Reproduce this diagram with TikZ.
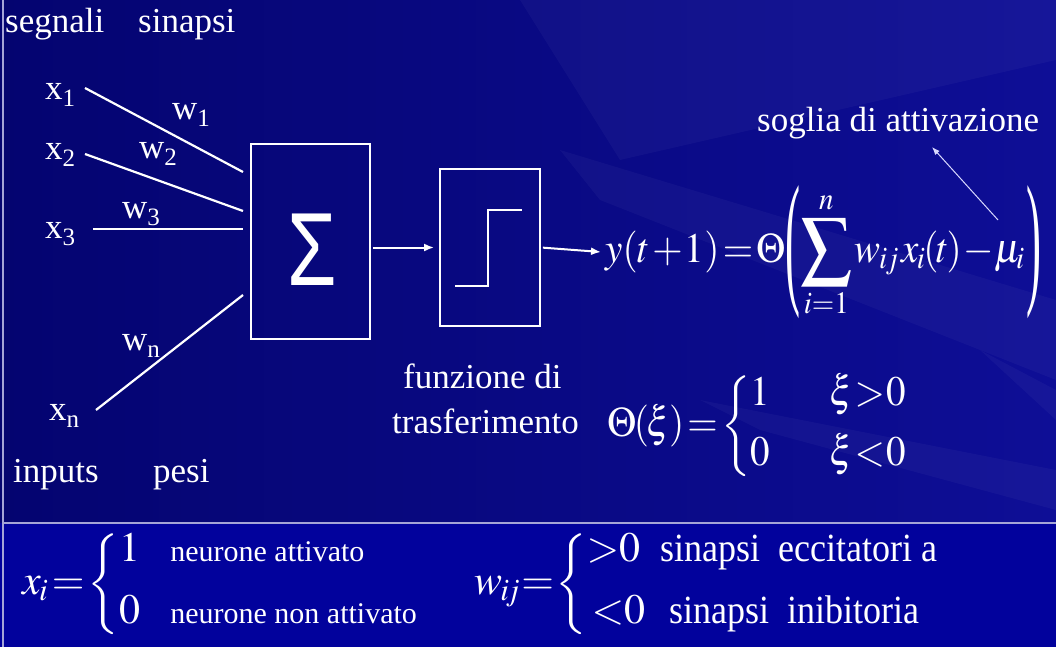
\documentclass[tikz,border=0pt]{standalone}
\usepackage{mathptmx}
\usepackage{fontspec}
\setmainfont{Liberation Serif}
\setsansfont{Liberation Sans}
\usetikzlibrary{arrows.meta,calc}
\definecolor{bgdark}{RGB}{4,4,112}
\definecolor{bgmid}{RGB}{14,14,150}
\definecolor{bgbot}{RGB}{2,2,156}
\definecolor{rulec}{RGB}{165,165,215}
\newcommand\lowsub[1]{\raisebox{-7pt}{\fontsize{25}{25}\selectfont #1}}
\newcommand\tightmath{\medmuskip=1mu\thickmuskip=1.5mu\thinmuskip=1mu}
\newcommand\bigsum{\mathop{\vcenter{\hbox{\scalebox{1.3}{$\displaystyle\sum$}}}}\limits}
\newcommand\bigparL{\mathopen{\vcenter{\hbox{\scalebox{1.15}[3.5]{(}}}}}
\newcommand\bigparR{\mathclose{\vcenter{\hbox{\scalebox{1.15}[3.5]{)}}}}}
\begin{document}
\begin{tikzpicture}[x=1pt,y=-1pt,
  lbl/.style={text=white, font=\fontsize{35}{35}\selectfont, inner sep=0pt, anchor=base west},
  mth/.style={text=white, font=\fontsize{42}{42}\selectfont, inner sep=0pt},
  inl/.style={white, line width=2.2pt},
  boxn/.style={draw=white, line width=1.8pt, inner sep=0pt},
  arr/.style={white, line width=2pt, -{Latex[length=10pt,width=8pt]}},
  thinarr/.style={white!85!blue, line width=1pt, -{Latex[length=8pt,width=6pt]}},
  streak/.style={white, opacity=0.035}]
\useasboundingbox (0,0) rectangle (1056,647);
% background
\shade[left color=bgdark, right color=bgmid] (0,0) rectangle (1056,523);
\fill[streak] (520,0) -- (1056,0) -- (1056,60) -- (620,160) -- cycle;
\fill[streak] (560,150) -- (1056,300) -- (1056,380) -- (600,200) -- cycle;
\fill[streak] (700,400) -- (1056,470) -- (1056,510) -- (760,430) -- cycle;
\fill[streak] (980,350) -- (1056,390) -- (1056,420) -- cycle;
\fill[bgbot] (0,523) rectangle (1056,647);
\draw[rulec, line width=1.5pt] (3,523) -- (1056,523);
\draw[rulec, line width=1.5pt] (3,0) -- (3,647);

% labels
\node[lbl] (segnali) at (5,33) {segnali};
\node[lbl] (sinapsi) at (138,33) {sinapsi};
\node[lbl] (inputs) at (13,482) {inputs};
\node[lbl] (pesi) at (153,482) {pesi};

\node[lbl] (x1) at (45,100) {x\lowsub{1}};
\node[lbl] (x2) at (45,160) {x\lowsub{2}};
\node[lbl] (x3) at (45,238) {x\lowsub{3}};
\node[lbl] (xn) at (49,420) {x\lowsub{n}};
\node[lbl] (w1) at (172,120) {w\lowsub{1}};
\node[lbl] (w2) at (139,158) {w\lowsub{2}};
\node[lbl] (w3) at (122,218) {w\lowsub{3}};
\node[lbl] (wn) at (122,350) {w\lowsub{n}};

% boxes
\node[boxn, minimum width=119pt, minimum height=195pt] (sum) at (310.5,241.5) {};
\node[text=white, inner sep=0pt, font=\fontsize{80}{80}\sffamily] (sigma) at (312,250) {\scalebox{1.0}[1.3]{Σ}};
\node[boxn, minimum width=100pt, minimum height=157pt] (step) at (490,247.5) {};
\draw[white, line width=2pt] (455,286) -- (488,286) -- (488,210) -- (522,210);

% input lines
\coordinate (a1) at (85,88);  \coordinate (b1) at (243,172);
\coordinate (a2) at (85,154); \coordinate (b2) at (243,211);
\coordinate (a3) at (93,229); \coordinate (b3) at (243,229);
\coordinate (an) at (96,410); \coordinate (bn) at (243,295);
\draw[inl] (a1) -- (b1);
\draw[inl] (a2) -- (b2);
\draw[inl] (a3) -- (b3);
\draw[inl] (an) -- (bn);

% formula
\node[mth, anchor=west] (yeq) at (605,252)
  {\scalebox{0.93}[1]{$\tightmath\displaystyle y(t+1)=\Theta\bigparL\bigsum_{i=1}^{n} w_{\!i\!j}\,x_{\!i}\!(\!t\!)-\!\mu_{\!i}\,\bigparR$}};
\draw[arr, shorten <=2pt, shorten >=5pt] (sum.east |- step.west) -- (step.west);
\draw[arr, shorten <=2pt] (step.east) -- ([xshift=-4pt]yeq.west);

\node[lbl] (soglia) at (757,132) {soglia di attivazione};
\coordinate (mutail) at (998,220);
\coordinate (sogtip) at (932,147);
\draw[thinarr] (mutail) -- (sogtip);

\node[lbl] (funz) at (403,388) {funzione di};
\node[lbl] (trasf) at (392,433) {trasferimento};
\node[mth, anchor=west] (theta) at (607,426)
  {\scalebox{0.93}[1]{$\tightmath\Theta\!(\!\xi\!)=\left\{\begin{array}{@{}l@{\hspace{64pt}}l@{}}1&\xi\!>\!0\\[15pt]0&\xi\!<\!0\end{array}\right.$}};

% bottom definitions
\node[mth, anchor=west] (xi) at (22,584)
  {$\tightmath x_{\!i}=\left\{\begin{array}{@{}l@{\hspace{30pt}}l@{}}1&\mbox{\fontsize{30}{30}\selectfont neurone attivato}\\[20pt]0&\mbox{\fontsize{30}{30}\selectfont neurone non attivato}\end{array}\right.$};
\node[mth, anchor=west] (wij) at (474,584)
  {$\tightmath w_{\!i\!\!j}\!=\!\left\{\begin{array}{@{}l@{}}{>}0\hspace{20pt}\mbox{\fontsize{40}{40}\selectfont\scalebox{0.9}[1]{sinapsi\ \ eccitatori a}}\\[20pt]\hspace{5pt}{<}0\hspace{24pt}\mbox{\fontsize{40}{40}\selectfont\scalebox{0.9}[1]{sinapsi\ \ inibitoria}}\end{array}\right.$};
\end{tikzpicture}
\end{document}
